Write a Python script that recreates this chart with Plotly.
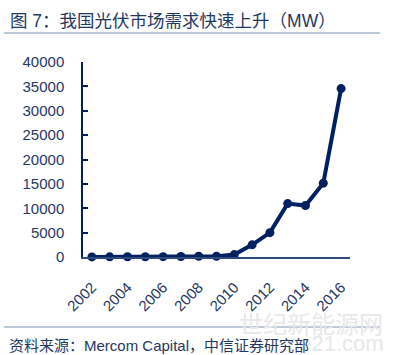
import plotly.graph_objects as go

years = [str(y) for y in range(2002, 2017)]
demand_mw = [20, 40, 45, 60, 70, 100, 150, 160, 500, 2500, 5000, 10950, 10560, 15150, 34540]
tick_years = ["2002", "2004", "2006", "2008", "2010", "2012", "2014", "2016"]
y_ticks = list(range(0, 40001, 5000))

W, H = 397, 355
L, R, T, B = 83, 47, 62, 98
pw, ph = W - L - R, H - T - B

def px(x):
    return (x - L) / pw

def py(y):
    return (H - B - y) / ph

NAVY = "#002060"
TXT = "#1F3864"
MIX = "Liberation Sans, Arial, Noto Sans CJK SC, sans-serif"
CJK = "Noto Sans CJK SC, Liberation Sans, sans-serif"
LAT = "Liberation Sans, Arial, sans-serif"

fig = go.Figure()
fig.add_trace(go.Scatter(
    x=years, y=demand_mw, mode="lines+markers",
    line=dict(color=NAVY, width=4),
    marker=dict(color=NAVY, size=9),
    cliponaxis=False, showlegend=False,
))

fig.update_layout(
    width=W, height=H, autosize=False,
    margin=dict(l=L, r=R, t=T, b=B),
    paper_bgcolor="white", plot_bgcolor="white",
    xaxis=dict(
        type="category", range=[-0.5, 14.5],
        tickmode="array", tickvals=tick_years, ticktext=tick_years,
        tickangle=-45, tickfont=dict(family=LAT, size=15, color=TXT),
        showgrid=False, zeroline=False,
        showline=True, linecolor="#2F4A80", linewidth=1.5,
        ticks="", ticklabelstandoff=14,
    ),
    yaxis=dict(
        range=[0, 40000], tickmode="array", tickvals=y_ticks,
        ticktext=[str(v) for v in y_ticks],
        tickfont=dict(family=LAT, size=15, color=TXT),
        showgrid=False, zeroline=False,
        showline=True, linecolor=NAVY, linewidth=1.5,
        ticks="inside", ticklen=5, tickwidth=1.5, tickcolor=NAVY,
        ticklabelstandoff=14,
    ),
    shapes=[
        dict(type="line", xref="paper", yref="paper",
             x0=px(4), x1=px(380), y0=py(33), y1=py(33),
             line=dict(color="#7F95B5", width=1.2)),
        dict(type="line", xref="paper", yref="paper",
             x0=px(4), x1=px(380), y0=py(327), y1=py(327),
             line=dict(color="#7F95B5", width=1.2)),
    ],
    annotations=[
        dict(text="图 7：我国光伏市场需求快速上升（MW）", xref="paper", yref="paper",
             x=px(8), y=py(21), xanchor="left", yanchor="middle", showarrow=False,
             font=dict(family=MIX, size=17.5, color=TXT)),
        dict(text="世纪新能源网", xref="paper", yref="paper",
             x=px(385), y=py(322), xanchor="right", yanchor="middle", showarrow=False,
             font=dict(family=CJK, size=24, color="#E8E8E8")),
        dict(text="ne21.com", xref="paper", yref="paper",
             x=px(386), y=py(343), xanchor="right", yanchor="middle", showarrow=False,
             font=dict(family=LAT, size=22, color="#E8E8E8")),
        dict(text="资料来源：Mercom Capital，中信证券研究部", xref="paper", yref="paper",
             x=px(7), y=py(345), xanchor="left", yanchor="middle", showarrow=False,
             font=dict(family=MIX, size=15, color=TXT)),
    ],
)

fig.write_html("out.html", config={"displayModeBar": False},
               post_script="document.body.style.margin='0';document.body.style.padding='0';")
